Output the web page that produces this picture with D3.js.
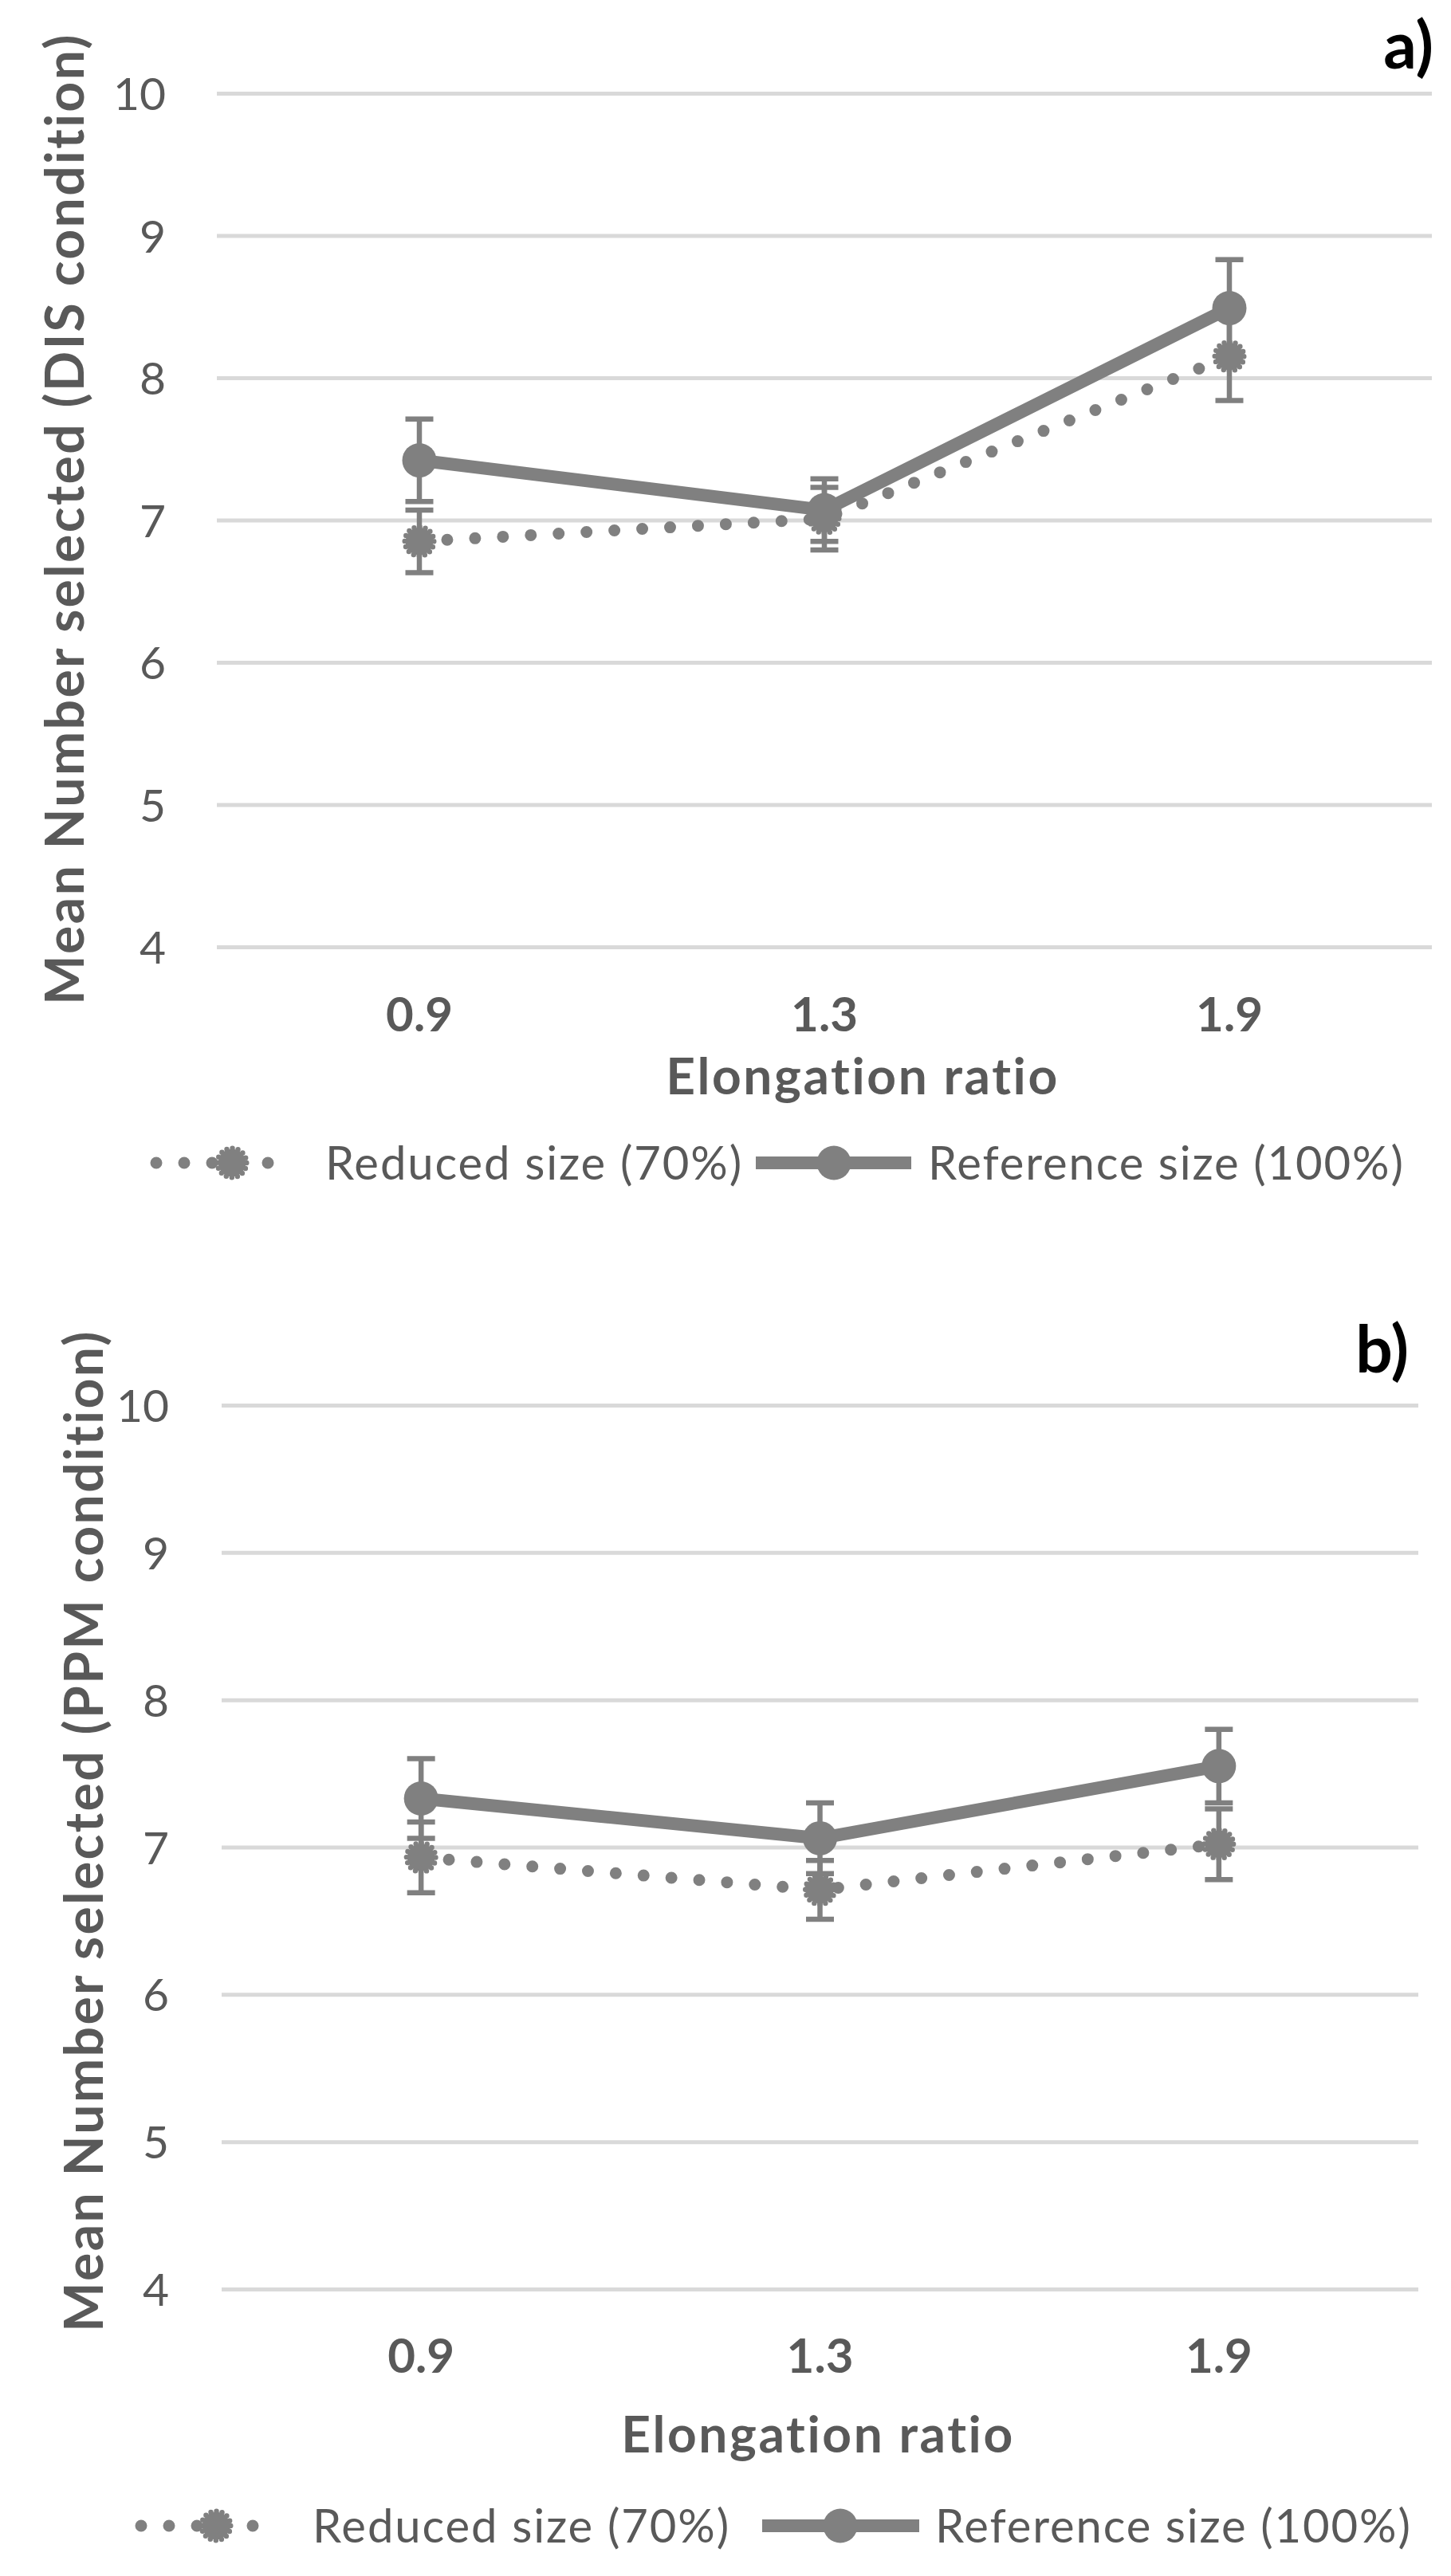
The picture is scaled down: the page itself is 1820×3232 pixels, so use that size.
<!DOCTYPE html>
<html>
<head>
<meta charset="utf-8">
<script src="https://cdn.jsdelivr.net/npm/d3@7"></script>
<style>
  body { margin: 0; background: #fff; }
  text { font-family: Lato, "Liberation Sans", sans-serif; fill: #595959; }
</style>
</head>
<body>
<div class="graph"></div>
<script>
// data
var categories = ['0.9', '1.3', '1.9']
var yTicks = [4, 5, 6, 7, 8, 9, 10]
var seriesNames = ['Reduced size (70%)', 'Reference size (100%)']

var disReduced = [6.85, 7.01, 8.15]
var disReducedErr = [0.22, 0.22, 0.31]
var disReference = [7.42, 7.07, 8.49]
var disReferenceErr = [0.29, 0.22, 0.34]

var ppmReduced = [6.93, 6.71, 7.02]
var ppmReducedErr = [0.24, 0.20, 0.24]
var ppmReference = [7.33, 7.06, 7.55]
var ppmReferenceErr = [0.27, 0.24, 0.25]

var yTitles = ['Mean Number selected (DIS condition)', 'Mean Number selected (PPM condition)']
var xTitle = 'Elongation ratio'
var tags = ['a)', 'b)']

// layout of each panel (pixels)
var panels = [
  { tag: tags[0], yTitle: yTitles[0], reduced: disReduced, reducedErr: disReducedErr,
    reference: disReference, referenceErr: disReferenceErr,
    left: 272, right: 1796, top: 117, bottom: 1188,
    tickRight: 208, yTitleX: 105, yTitleY: 651, catY: 1294,
    xTitleX: 1082, xTitleY: 1373, tagX: 1798, tagY: 86,
    legY: 1459, leg: [196, 371, 291, 408, 948, 1143, 1046, 1164] },
  { tag: tags[1], yTitle: yTitles[1], reduced: ppmReduced, reducedErr: ppmReducedErr,
    reference: ppmReference, referenceErr: ppmReferenceErr,
    left: 278, right: 1779, top: 1763, bottom: 2872,
    tickRight: 212, yTitleX: 129, yTitleY: 2297, catY: 2977,
    xTitleX: 1026, xTitleY: 3077, tagX: 1767, tagY: 1722,
    legY: 3169, leg: [177, 352, 271, 392, 956, 1153, 1054, 1173] }
]

var grey = '#808080'
var lineW = 16, dotW = 15, markR = 21.5, errW = 6.5, capW = 35

var svg = d3.select('.graph')
  .append('svg')
  .attr('width', 1820)
  .attr('height', 3232)

function reducedMarker(g, cx, cy) {
  var r = markR - 3.2
  g.append('circle')
    .attr('cx', cx).attr('cy', cy).attr('r', r - 1)
    .style('fill', grey)
  g.append('circle')
    .attr('cx', cx).attr('cy', cy).attr('r', r)
    .style('fill', 'none')
    .style('stroke', grey)
    .style('stroke-width', 6.4)
    .style('stroke-linecap', 'round')
    .style('stroke-dasharray', '0 ' + (2 * Math.PI * r / 16))
}

function referenceMarker(g, cx, cy) {
  g.append('circle')
    .attr('cx', cx).attr('cy', cy).attr('r', markR)
    .style('fill', grey)
}

function drawPanel(p) {
  var g = svg.append('g')

  var x = d3.scaleBand().domain(categories).range([p.left, p.right])
  var y = d3.scaleLinear().domain([4, 10]).range([p.bottom, p.top])
  var cx = function(d, i) { return x(categories[i]) + x.bandwidth() / 2 }

  // gridlines + tick labels
  var yAxis = g.append('g')
    .attr('transform', 'translate(' + p.left + ',0)')
    .call(d3.axisLeft(y).tickValues(yTicks).tickFormat(d3.format('d'))
      .tickSize(-(p.right - p.left))
      .tickPadding(p.left - p.tickRight))
  yAxis.select('.domain').remove()
  yAxis.selectAll('line').style('stroke', '#d9d9d9').style('stroke-width', 5)
  yAxis.selectAll('text')
    .attr('dy', '0.36em')
    .style('font-size', '57px')
    .style('font-family', 'Lato, sans-serif')
    .style('fill', '#595959')

  // category labels
  var xAxis = g.append('g')
    .attr('transform', 'translate(0,' + p.catY + ')')
    .call(d3.axisBottom(x).tickSize(0).tickPadding(0))
  xAxis.select('.domain').remove()
  xAxis.selectAll('text')
    .attr('y', 0).attr('dy', 0)
    .style('font-size', '60px')
    .style('font-family', 'Lato, sans-serif')
    .style('font-weight', 'bold')
    .style('fill', '#595959')

  // axis titles and panel tag
  g.append('text')
    .attr('transform', 'translate(' + p.yTitleX + ',' + p.yTitleY + ') rotate(-90)')
    .attr('text-anchor', 'middle')
    .style('font-size', '66px').style('font-weight', 'bold')
    .style('letter-spacing', '2.4px')
    .text(p.yTitle)
  g.append('text')
    .attr('x', p.xTitleX).attr('y', p.xTitleY)
    .attr('text-anchor', 'middle')
    .style('font-size', '64px').style('font-weight', 'bold')
    .style('letter-spacing', '2.6px')
    .text(xTitle)
  g.append('text')
    .attr('x', p.tagX).attr('y', p.tagY)
    .attr('text-anchor', 'end')
    .style('font-size', '82px').style('font-weight', 'bold').style('fill', '#000')
    .text(p.tag)

  var line = d3.line().x(cx).y(function(d) { return y(d) })

  // error bars
  function errBars(vals, errs) {
    var eg = g.append('g').style('stroke', grey).style('stroke-width', errW)
    vals.forEach(function(v, i) {
      var xx = cx(v, i)
      eg.append('line').attr('x1', xx).attr('x2', xx)
        .attr('y1', y(v + errs[i])).attr('y2', y(v - errs[i]))
      ;[v + errs[i], v - errs[i]].forEach(function(e) {
        eg.append('line').attr('x1', xx - capW / 2).attr('x2', xx + capW / 2)
          .attr('y1', y(e)).attr('y2', y(e))
      })
    })
  }
  errBars(p.reduced, p.reducedErr)
  errBars(p.reference, p.referenceErr)

  // reduced size: dotted line
  g.append('path')
    .attr('d', line(p.reduced))
    .style('fill', 'none').style('stroke', grey)
    .style('stroke-width', dotW)
    .style('stroke-linecap', 'round')
    .style('stroke-dasharray', '0 35')
  p.reduced.forEach(function(v, i) { reducedMarker(g, cx(v, i), y(v)) })

  // reference size: solid line
  g.append('path')
    .attr('d', line(p.reference))
    .style('fill', 'none').style('stroke', grey)
    .style('stroke-width', lineW)
    .style('stroke-linejoin', 'round')
  p.reference.forEach(function(v, i) { referenceMarker(g, cx(v, i), y(v)) })

  // legend
  var L = p.leg, ly = p.legY
  g.append('line')
    .attr('x1', L[0]).attr('x2', L[1]).attr('y1', ly).attr('y2', ly)
    .style('stroke', grey).style('stroke-width', dotW)
    .style('stroke-linecap', 'round').style('stroke-dasharray', '0 35')
  reducedMarker(g, L[2], ly)
  g.append('text').attr('x', L[3]).attr('y', ly).attr('dy', '0.36em')
    .style('font-size', '58px').style('letter-spacing', '1.9px')
    .text(seriesNames[0])
  g.append('line')
    .attr('x1', L[4]).attr('x2', L[5]).attr('y1', ly).attr('y2', ly)
    .style('stroke', grey).style('stroke-width', lineW)
  referenceMarker(g, L[6], ly)
  g.append('text').attr('x', L[7]).attr('y', ly).attr('dy', '0.36em')
    .style('font-size', '58px').style('letter-spacing', '1.85px')
    .text(seriesNames[1])
}

panels.forEach(drawPanel)
</script>
</body>
</html>
